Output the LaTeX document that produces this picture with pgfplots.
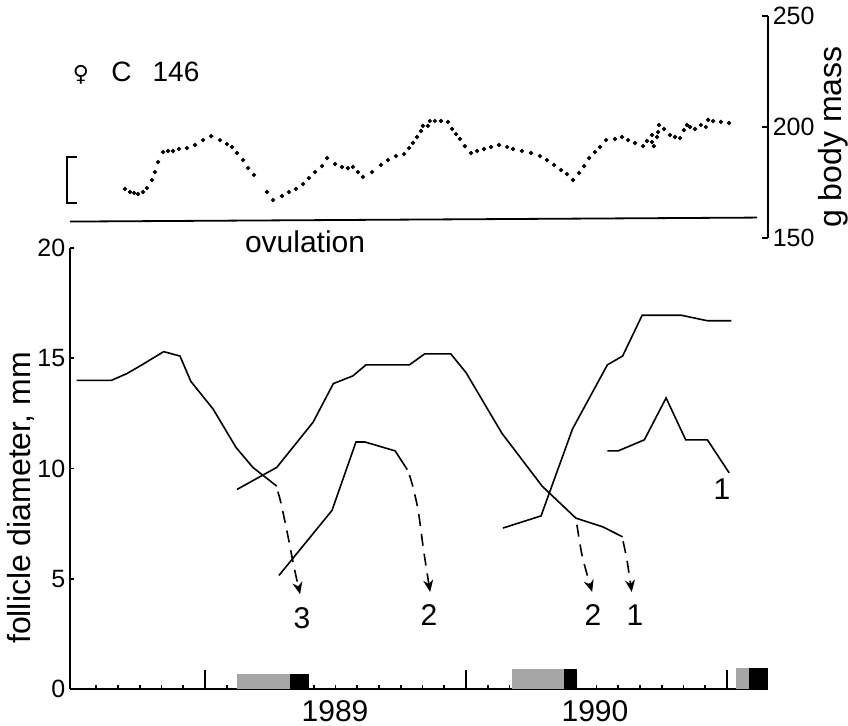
\documentclass[border=0pt]{standalone}
\usepackage{pgfplots}
\pgfplotsset{compat=1.18}
\usepackage{fontspec}
\setmainfont{Liberation Sans}
\newfontfamily\symfont{DejaVu Sans}
\usetikzlibrary{arrows.meta}

\pgfplotsset{
  every axis/.append style={
    scale only axis, clip=false, line width=0.8pt,
    tick style={line width=0.8pt, black},
    major tick length=2pt,
    /pgf/number format/assume math mode=true,
  },
  curve/.style={black, line width=0.8pt, mark=none},
  ovul/.style={black, line width=0.8pt, mark=none, dash pattern=on 6pt off 4pt,
    smooth, -{Stealth[length=6pt,width=5pt]}},
}

\begin{document}
\begin{tikzpicture}[font=\fontsize{15}{18}\selectfont]

% follicle diameter
\begin{axis}[at={(35pt,18pt)}, anchor=south west, width=349pt, height=220.5pt,
  xmin=-6.207, xmax=25.885, ymin=0, ymax=20,
  axis x line*=bottom, axis y line*=left, tick align=inside,
  xtick={-5,...,25}, xticklabels={},
  extra x ticks={0,12,24}, extra x tick labels={},
  extra x tick style={major tick length=9.5pt},
  ytick={0,5,10,15,20},
  yticklabel style={font=\fontsize{12.5}{15}\selectfont, inner sep=2pt}]

% breeding season bars
\addplot[draw=none, fill=gray!70] coordinates {(1.47,0.68) (3.91,0.68)} \closedcycle;
\addplot[draw=none, fill=black] coordinates {(3.91,0.68) (4.78,0.68)} \closedcycle;
\addplot[draw=none, fill=gray!70] coordinates {(14.10,0.90) (16.50,0.90)} \closedcycle;
\addplot[draw=none, fill=black] coordinates {(16.50,0.90) (17.10,0.90)} \closedcycle;
\addplot[draw=none, fill=gray!70] coordinates {(24.40,0.95) (25.00,0.95)} \closedcycle;
\addplot[draw=none, fill=black] coordinates {(25.00,0.95) (25.88,0.95)} \closedcycle;

\addplot[curve] coordinates {(-5.9,14.0) (-4.3,14.0) (-3.6,14.3) (-2.9,14.7) (-1.9,15.3)
  (-1.15,15.1) (-0.65,13.95) (0.37,12.7) (1.43,10.95) (2.2,10.05) (3.3,9.2)};
\addplot[curve] coordinates {(1.47,9.05) (3.3,10.05) (4.97,12.1) (5.9,13.85) (6.8,14.2)
  (7.4,14.7) (9.4,14.7) (10.1,15.2) (11.3,15.2) (12.0,14.35) (13.65,11.6) (15.5,9.2)
  (17.05,7.75) (18.3,7.35) (19.2,6.9)};
\addplot[curve] coordinates {(3.4,5.15) (5.84,8.1) (6.94,11.2) (7.36,11.2) (8.74,10.8) (9.3,9.95)};
\addplot[curve] coordinates {(13.7,7.3) (15.45,7.85) (16.9,11.8) (18.5,14.7) (19.2,15.1)
  (20.1,16.95) (21.9,16.95) (23.1,16.7) (24.2,16.7)};
\addplot[curve] coordinates {(18.5,10.8) (19.0,10.8) (20.2,11.3) (21.2,13.2) (22.1,11.3)
  (23.1,11.3) (24.1,9.8)};

% ovulations
\addplot[ovul] coordinates {(3.35,8.95) (3.5,8.4) (3.8,7.0) (4.1,5.5) (4.37,4.3)};
\addplot[ovul] coordinates {(9.4,9.7) (9.55,9.2) (9.8,8.1) (10.05,6.3) (10.35,4.4)};
\addplot[ovul] coordinates {(17.1,7.45) (17.35,6.0) (17.8,4.4)};
\addplot[ovul] coordinates {(19.22,6.7) (19.4,5.85) (19.62,4.4)};

\node at (axis cs:4.46,3.22) {3};
\node at (axis cs:10.3,3.36) {2};
\node at (axis cs:17.84,3.36) {2};
\node at (axis cs:19.77,3.36) {1};
\node at (axis cs:23.77,9.05) {1};
\node at (axis cs:5.98,-1.0) {1989};
\node at (axis cs:17.93,-1.0) {1990};
\node[rotate=90, font=\fontsize{16}{18}\selectfont] at (axis cs:-8.45,8.66) {follicle diameter, mm};
\end{axis}

% body mass
\begin{axis}[at={(35pt,243.5pt)}, anchor=south west, width=349pt, height=111pt,
  xmin=-6.207, xmax=25.885, ymin=150, ymax=250,
  axis x line*=bottom, x axis line style={draw=none}, xtick=\empty,
  axis y line*=right, tick align=inside, major tick length=3pt,
  ytick={150,200,250},
  yticklabel style={font=\fontsize{12.5}{15}\selectfont, inner sep=2pt}]

\addplot[curve, line width=0.9pt] coordinates {(-6.207,157.4) (25.38,159.2)};
\addplot[curve] coordinates {(-5.9,186.5) (-6.34,186.5) (-6.34,165.8) (-5.9,165.8)};

\addplot[only marks, mark=*, mark size=0.6pt, black] table {
-3.68 172.1
-3.45 170.7
-3.26 170.3
-3.08 169.8
-2.85 170.7
-2.67 172.5
-2.44 176.1
-2.30 179.7
-2.16 184.2
-1.93 188.7
-1.70 189.2
-1.47 189.2
-1.20 190.1
-0.83 190.5
-0.46 191.9
-0.09 194.1
0.28 195.9
0.69 194.1
1.01 192.3
1.24 191.0
1.47 188.3
1.75 185.1
1.98 181.5
2.25 178.4
2.85 170.7
3.13 167.1
3.54 168.9
3.86 170.7
4.18 172.1
4.51 174.3
4.78 177.0
5.06 179.7
5.38 182.4
5.61 186.0
5.98 183.3
6.30 182.0
6.57 181.5
6.80 182.0
7.03 179.7
7.26 177.5
7.68 179.7
8.09 182.9
8.41 185.1
8.78 186.9
9.15 187.8
9.38 190.5
9.56 192.8
9.75 195.5
9.93 198.2
10.02 200.5
10.25 200.5
10.34 202.7
10.57 202.7
10.85 202.7
11.17 202.3
11.36 199.1
11.54 196.8
11.72 194.6
11.95 191.4
12.23 188.3
12.51 189.2
12.83 190.1
13.15 191.0
13.52 191.9
13.89 191.0
14.16 190.1
14.57 189.2
14.99 188.3
15.40 186.9
15.72 185.1
16.05 182.9
16.37 180.6
16.64 178.8
16.92 176.1
17.20 179.3
17.43 182.4
17.66 186.0
17.93 188.7
18.16 191.0
18.44 194.1
18.85 194.6
19.17 195.5
19.45 194.1
19.77 192.8
20.14 191.4
20.32 193.7
20.55 196.4
20.55 193.2
20.64 191.4
20.78 195.5
20.83 197.7
20.87 200.9
21.10 199.1
21.38 196.4
21.61 195.5
21.84 195.0
22.02 198.6
22.16 200.9
22.30 200.0
22.53 199.1
22.80 200.9
23.03 200.0
23.13 203.2
23.36 202.7
23.72 202.3
24.09 201.8
};

\node[anchor=west, inner sep=0pt, font=\fontsize{14}{16}\selectfont] at (axis cs:-6.11,224.3)
  {{\symfont\fontsize{11}{12}\selectfont ♀}\hspace{0.8em}C\hspace{0.75em}146};
\node at (axis cs:4.6,148.2) {ovulation};
\node[rotate=90, font=\fontsize{16}{18}\selectfont] at (axis cs:28.87,195.5) {g body mass};
\end{axis}

\pgfresetboundingbox
\path[use as bounding box] (0pt,0pt) rectangle (424pt,362.5pt);
\end{tikzpicture}
\end{document}
